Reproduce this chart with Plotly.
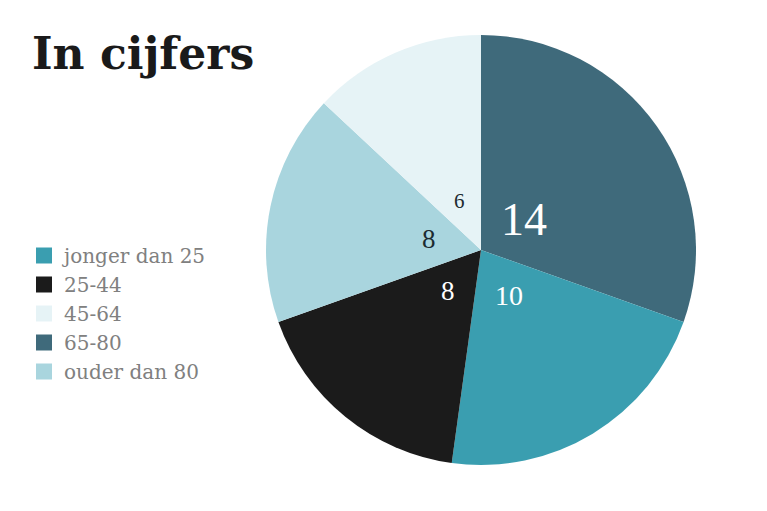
import math
import plotly.graph_objects as go

# legend order
groups = ["jonger dan 25", "25-44", "45-64", "65-80", "ouder dan 80"]
counts = [10, 8, 6, 14, 8]
colors = ["#3a9eb0", "#1b1b1b", "#e6f3f6", "#3f6a7b", "#a9d5de"]

# order of the slices, clockwise from 12 o'clock
slice_order = ["65-80", "jonger dan 25", "25-44", "ouder dan 80", "45-64"]
label_colors = {"65-80": "white", "jonger dan 25": "white", "25-44": "white",
                "ouder dan 80": "#1d2b30", "45-64": "#1d2b30"}
label_sizes = {"65-80": 46, "jonger dan 25": 28, "25-44": 27,
               "ouder dan 80": 27, "45-64": 21}

W, H = 767, 511
# page body has an 8px margin, so positions below are 8px up/left of the picture
cx, cy, r = 473, 242, 215

lookup = dict(zip(groups, counts))
col_lookup = dict(zip(groups, colors))
values = [lookup[g] for g in slice_order]

fig = go.Figure()
fig.add_trace(go.Pie(
    labels=slice_order,
    values=values,
    marker=dict(colors=[col_lookup[g] for g in slice_order], line=dict(width=0)),
    sort=False,
    direction="clockwise",
    rotation=0,
    textinfo="none",
    hoverinfo="label+value",
    showlegend=False,
    domain=dict(x=[(cx - r) / W, (cx + r) / W], y=[(H - cy - r) / H, (H - cy + r) / H]),
))

# legend entries
for g, c in zip(groups, colors):
    fig.add_trace(go.Scatter(
        x=[None], y=[None], mode="markers", name=g,
        marker=dict(symbol="square", size=20, color=c),
    ))

# value labels near the centre, along each slice's middle angle
total = sum(values)
cum = 0
for g, v in zip(slice_order, values):
    mid = (cum + v / 2) / total * 2 * math.pi
    cum += v
    px = cx + 53 * math.sin(mid)
    py = cy - 53 * math.cos(mid)
    fig.add_annotation(
        x=px / W, y=1 - py / H, xref="paper", yref="paper",
        xanchor="center", yanchor="middle",
        text=str(v), showarrow=False,
        font=dict(family="Liberation Serif", size=label_sizes[g], color=label_colors[g]),
    )

fig.update_xaxes(visible=False)
fig.update_yaxes(visible=False)
fig.update_layout(
    width=W, height=H,
    margin=dict(l=0, r=0, t=0, b=0),
    paper_bgcolor="white",
    plot_bgcolor="white",
    title=dict(text="<b>In cijfers</b>", x=24 / W, xanchor="left",
               y=1 - 46 / H, yanchor="middle",
               font=dict(family="DejaVu Serif", size=44, color="#1a1a1a")),
    legend=dict(x=16 / W, xanchor="left", y=1 - 228 / H, yanchor="top",
                font=dict(family="DejaVu Serif", size=20, color="#808080"),
                tracegroupgap=0,
                bgcolor="rgba(0,0,0,0)"),
    showlegend=True,
)

fig.write_html("out.html")
